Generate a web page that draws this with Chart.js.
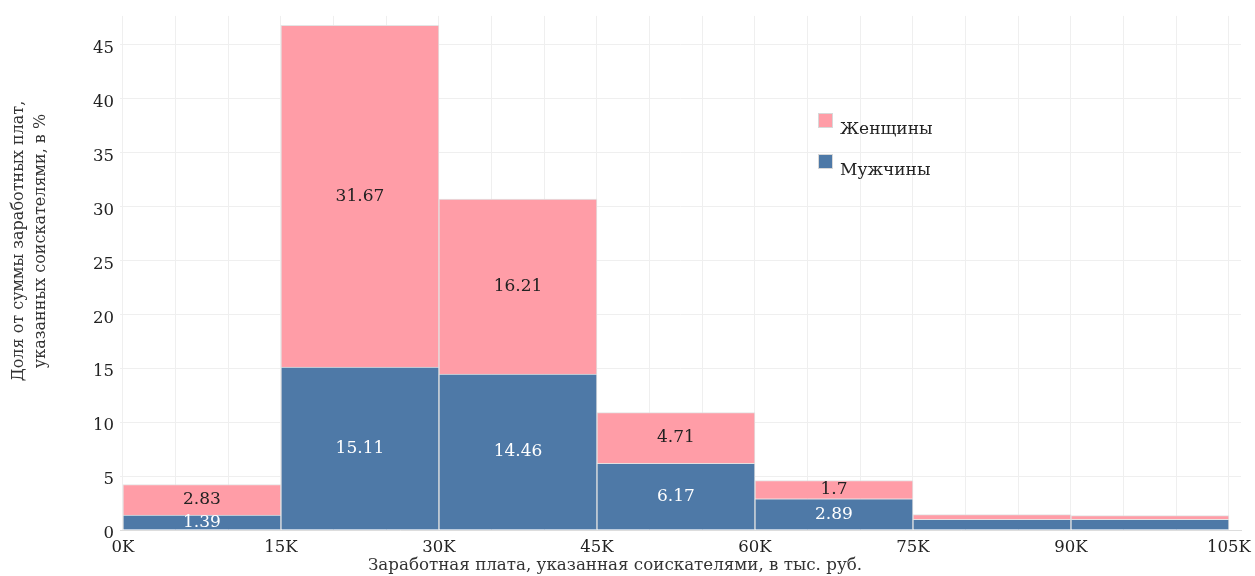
<!DOCTYPE html>
<html lang="ru">

<head>
    <meta charset="UTF-8">
    <meta name="viewport" content="width=device-width, initial-scale=1.0">
    <script src="https://cdn.jsdelivr.net/npm/chart.js@4.4.0/dist/chart.umd.min.js"></script>
    <title>Заработная плата</title>
    <style>
        html, body { margin: 0; padding: 0; background: #fff; }
        #chart_div { width: 1255px; height: 576px; position: relative; }
    </style>
</head>

<body>
    <div id="chart_div">
        <canvas id="myChart"></canvas>
    </div>
    <script>
        // интервалы зарплат (тыс. руб.), начало каждого интервала
        const bin_start = [0, 15, 30, 45, 60, 75, 90];
        const bin_width = 15;
        // доли, %
        const men = [1.39, 15.11, 14.46, 6.17, 2.89, 0.98, 1.0];
        const women = [2.83, 31.67, 16.21, 4.71, 1.7, 0.45, 0.33];
        const series_names = ['Мужчины', 'Женщины'];
        const x_label_step = 15;   // подписи оси X каждые 15K
        const x_grid_step = 5;     // сетка каждые 5K
        const y_ticks = [0, 5, 10, 15, 20, 25, 30, 35, 40, 45];
        const label_min = 1.2;     // маленькие значения не подписываем

        const c_blue = '#4e79a7';
        const c_pink = '#ff9da7';
        const FONT = '"DejaVu Serif", "Liberation Serif", serif';

        function fn_points(arr) {
            return arr.map(function (v, i) {
                return { x: bin_start[i] + bin_width / 2, y: v };
            });
        }

        // подписи значений внутри сегментов
        const bar_labels = {
            id: 'bar_labels',
            afterDatasetsDraw(chart) {
                const ctx = chart.ctx;
                ctx.save();
                ctx.font = '17px ' + FONT;
                ctx.textAlign = 'center';
                ctx.textBaseline = 'middle';
                chart.data.datasets.forEach(function (ds, i) {
                    const meta = chart.getDatasetMeta(i);
                    meta.data.forEach(function (bar, j) {
                        const v = ds.data[j].y;
                        if (v < label_min) return;
                        ctx.fillStyle = ds.labelColor;
                        ctx.fillText(String(v), bar.x, (bar.y + bar.base) / 2);
                    });
                });
                ctx.restore();
            }
        };

        // легенда и подписи осей рисуем сами
        const extras = {
            id: 'extras',
            afterDraw(chart) {
                const ctx = chart.ctx;
                ctx.save();
                ctx.font = '17px ' + FONT;
                ctx.textBaseline = 'middle';
                ctx.textAlign = 'left';
                // легенда: Женщины сверху
                const items = [
                    { name: series_names[1], color: c_pink },
                    { name: series_names[0], color: c_blue }
                ];
                items.forEach(function (it, k) {
                    const y = 120 + k * 41;
                    ctx.fillStyle = it.color;
                    ctx.fillRect(818, y - 7, 15, 15);
                    ctx.strokeStyle = '#d8d8d8';
                    ctx.lineWidth = 1;
                    ctx.strokeRect(818.5, y - 6.5, 14, 14);
                    ctx.fillStyle = '#222';
                    ctx.fillText(it.name, 840, y + 10);
                });

                // подпись оси X
                ctx.textAlign = 'center';
                ctx.fillStyle = '#333';
                ctx.font = '16.7px ' + FONT;
                ctx.fillText('Заработная плата, указанная соискателями, в тыс. руб.', 615, 566);

                // подпись оси Y
                ctx.font = '16px ' + FONT;
                ctx.translate(30, 241);
                ctx.rotate(-Math.PI / 2);
                ctx.fillText('Доля от суммы заработных плат,', 0, -11);
                ctx.fillText('указанных соискателями, в %', 0, 11);
                ctx.restore();
            }
        };

        let ctx = document.getElementById('myChart');
        let config = {
            type: 'bar',
            data: {
                datasets: [{
                    label: series_names[0],
                    data: fn_points(men),
                    stack: 's',
                    backgroundColor: c_blue,
                    borderColor: 'rgba(225,225,225,0.9)',
                    borderWidth: 1,
                    labelColor: '#ffffff'
                }, {
                    label: series_names[1],
                    data: fn_points(women),
                    stack: 's',
                    backgroundColor: c_pink,
                    borderColor: 'rgba(225,225,225,0.9)',
                    borderWidth: 1,
                    labelColor: '#222222'
                }]
            },
            options: {
                responsive: true,
                maintainAspectRatio: false,
                animation: false,
                barPercentage: 1,
                categoryPercentage: 1,
                layout: {
                    padding: { top: 11, right: 14, left: 0, bottom: 0 }
                },
                plugins: {
                    legend: { display: false },
                    tooltip: { enabled: false }
                },
                scales: {
                    // основная ось: подписи через 15K
                    x: {
                        type: 'linear',
                        offset: false,
                        min: -0.28,
                        max: 106.14,
                        grid: { display: false, offset: false },
                        border: { color: '#dddddd' },
                        ticks: {
                            stepSize: x_label_step,
                            includeBounds: false,
                            autoSkip: false,
                            maxRotation: 0,
                            padding: 0,
                            color: '#222',
                            font: { family: FONT, size: 16.5 },
                            callback: function (v) { return v + 'K'; }
                        },
                        afterFit: function (axis) { axis.height = 46; }
                    },
                    // вспомогательная ось только для сетки 5K
                    x2: {
                        type: 'linear',
                        position: 'bottom',
                        offset: false,
                        min: -0.28,
                        max: 106.14,
                        grid: { color: '#efefef', drawTicks: false, offset: false },
                        border: { display: false },
                        ticks: { display: false, stepSize: x_grid_step, includeBounds: false },
                        afterFit: function (axis) { axis.height = 0; }
                    },
                    y: {
                        stacked: true,
                        min: 0,
                        max: 47.66,
                        grid: { color: '#efefef', drawTicks: false },
                        border: { display: false },
                        afterBuildTicks: function (axis) {
                            axis.ticks = y_ticks.map(function (v) { return { value: v }; });
                        },
                        ticks: {
                            padding: 6,
                            labelOffset: 4,
                            color: '#222',
                            font: { family: FONT, size: 16.5 }
                        },
                        afterFit: function (axis) { axis.width = 120; }
                    }
                }
            },
            plugins: [bar_labels, extras]
        };
        let myChart = new Chart(ctx, config);
    </script>
</body>

</html>
